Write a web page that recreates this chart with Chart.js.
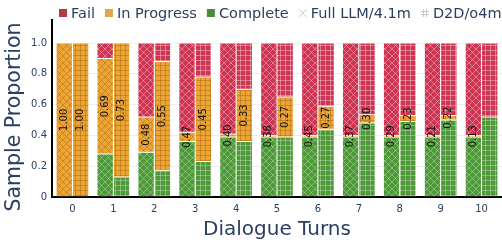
<!DOCTYPE html>
<html>
<head>
	<meta charset="utf-8">
	<script src="https://cdn.jsdelivr.net/npm/chart.js@4.4.1/dist/chart.umd.min.js"></script>
	<style type="text/css">
	html, body{
		margin: 0;
		padding: 0;
		background: #fff;
	}
	#holder{
		width: 502px;
		height: 242px;
	}
	</style>
</head>
<body>
	<div id="holder"><canvas id="chart-area"></canvas></div>

	<script>

	// values
	var turns = ['0', '1', '2', '3', '4', '5', '6', '7', '8', '9', '10'];

	var fullComplete = [0.00, 0.28, 0.29, 0.36, 0.39, 0.39, 0.39, 0.39, 0.39, 0.39, 0.39];
	var fullProgress = [1.00, 0.62, 0.23, 0.06, 0.02, 0.01, 0.01, 0.01, 0.01, 0.01, 0.01];
	var fullFail     = [0.00, 0.10, 0.48, 0.58, 0.59, 0.60, 0.60, 0.60, 0.60, 0.60, 0.60];

	var d2dComplete = [0.00, 0.13, 0.17, 0.23, 0.36, 0.39, 0.44, 0.48, 0.49, 0.50, 0.52];
	var d2dProgress = [1.00, 0.87, 0.71, 0.55, 0.34, 0.26, 0.15, 0.055, 0.04, 0.03, 0.00];
	var d2dFail     = [0.00, 0.00, 0.12, 0.22, 0.30, 0.35, 0.41, 0.465, 0.47, 0.47, 0.48];

	var fullLabels = ['1.00', '0.69', '0.48', '0.47', '0.40', '0.38', '0.45', '0.37', '0.29', '0.21', '0.13'];
	var d2dLabels  = ['1.00', '0.73', '0.55', '0.45', '0.33', '0.27', '0.27', '0.30', '0.23', '0.22', ''];

	var colors = {
		fail: '#cf3452',
		progress: '#eaa535',
		complete: '#4f9a38'
	};
	var legendColors = {
		fail: '#b63a45',
		progress: '#e2a84c',
		complete: '#4f8a3b'
	};
	var lineColors = {
		fail: 'rgba(255,255,255,0.35)',
		progress: 'rgba(170,100,10,0.45)',
		complete: 'rgba(255,255,255,0.3)'
	};

	function makePattern(kind, base, line) {
		var s = kind == 'x' ? 7 : 5;
		var c = document.createElement('canvas');
		c.width = s;
		c.height = s;
		var g = c.getContext('2d');
		g.fillStyle = base;
		g.fillRect(0, 0, s, s);
		g.strokeStyle = line;
		g.lineWidth = 1;
		g.beginPath();
		if (kind == 'x') {
			g.moveTo(0, 0); g.lineTo(s, s);
			g.moveTo(s, 0); g.lineTo(0, s);
		} else {
			g.moveTo(0.5, 0); g.lineTo(0.5, s);
			g.moveTo(0, 0.5); g.lineTo(s, 0.5);
		}
		g.stroke();
		return g.createPattern(c, 'repeat');
	}

	function dataset(label, data, key, kind, stack) {
		return {
			label: label,
			data: data,
			stack: stack,
			backgroundColor: makePattern(kind, colors[key], lineColors[key]),
			borderColor: 'rgba(255,255,255,0.5)',
			borderWidth: 0.5,
			borderSkipped: false
		};
	}

	var fontFamily = '"DejaVu Sans", Verdana, sans-serif';
	var textColor = '#2a3f5f';

	var legendPlugin = {
		id: 'topLegend',
		afterDraw: function(chart) {
			var ctx = chart.ctx;
			var items = [
				['box', legendColors.fail, 'Fail'],
				['box', legendColors.progress, 'In Progress'],
				['box', legendColors.complete, 'Complete'],
				['x', '#c8c8c8', 'Full LLM/4.1m'],
				['grid', '#c8c8c8', 'D2D/o4m']
			];
			var x = 59, y = 13;
			ctx.save();
			ctx.font = '14.5px ' + fontFamily;
			ctx.textBaseline = 'middle';
			items.forEach(function(it) {
				ctx.fillStyle = it[1];
				ctx.strokeStyle = it[1];
				ctx.lineWidth = 1;
				if (it[0] == 'box') {
					ctx.fillRect(x, y - 4, 8, 8);
				} else if (it[0] == 'x') {
					ctx.beginPath();
					ctx.moveTo(x, y - 4); ctx.lineTo(x + 8, y + 4);
					ctx.moveTo(x + 8, y - 4); ctx.lineTo(x, y + 4);
					ctx.stroke();
				} else {
					ctx.beginPath();
					ctx.moveTo(x + 2.5, y - 4); ctx.lineTo(x + 2.5, y + 4);
					ctx.moveTo(x + 5.5, y - 4); ctx.lineTo(x + 5.5, y + 4);
					ctx.moveTo(x, y - 1.5); ctx.lineTo(x + 8, y - 1.5);
					ctx.moveTo(x, y + 1.5); ctx.lineTo(x + 8, y + 1.5);
					ctx.stroke();
				}
				ctx.fillStyle = textColor;
				ctx.fillText(it[2], x + 12, y + 1);
				x += 12 + ctx.measureText(it[2]).width + 10;
			});
			ctx.restore();
		}
	};

	// y title drawn by hand so it can sit a bit lower than the plot centre
	var yTitlePlugin = {
		id: 'yTitle',
		afterDraw: function(chart) {
			var ctx = chart.ctx;
			ctx.save();
			ctx.font = '20.5px ' + fontFamily;
			ctx.fillStyle = textColor;
			ctx.textAlign = 'center';
			ctx.textBaseline = 'middle';
			ctx.translate(15, 117);
			ctx.rotate(-Math.PI / 2);
			ctx.fillText('Sample Proportion', 0, 0);
			ctx.restore();
		}
	};

	var barLabelPlugin = {
		id: 'barLabels',
		afterDatasetsDraw: function(chart) {
			var ctx = chart.ctx;
			var sets = [[1, fullLabels], [4, d2dLabels]];
			ctx.save();
			ctx.font = '10px ' + fontFamily;
			ctx.fillStyle = '#111';
			ctx.textAlign = 'center';
			ctx.textBaseline = 'middle';
			sets.forEach(function(s) {
				var meta = chart.getDatasetMeta(s[0]);
				meta.data.forEach(function(el, i) {
					if (!s[1][i]) return;
					var cy = (el.y + el.base) / 2;
					ctx.save();
					ctx.translate(el.x, cy);
					ctx.rotate(-Math.PI / 2);
					ctx.fillText(s[1][i], 0, 0);
					ctx.restore();
				});
			});
			ctx.restore();
		}
	};

	var config = {
		type: 'bar',
		data: {
			labels: turns,
			datasets: [
				dataset('Complete', fullComplete, 'complete', 'x', 'full'),
				dataset('In Progress', fullProgress, 'progress', 'x', 'full'),
				dataset('Fail', fullFail, 'fail', 'x', 'full'),
				dataset('Complete', d2dComplete, 'complete', 'grid', 'd2d'),
				dataset('In Progress', d2dProgress, 'progress', 'grid', 'd2d'),
				dataset('Fail', d2dFail, 'fail', 'grid', 'd2d')
			]
		},
		options: {
			responsive: true,
			maintainAspectRatio: false,
			animation: false,
			layout: {
				padding: {top: 20, right: 0, left: 0, bottom: 0}
			},
			datasets: {
				bar: {
					categoryPercentage: 0.8,
					barPercentage: 1.0
				}
			},
			plugins: {
				legend: {display: false},
				tooltip: {enabled: false}
			},
			scales: {
				x: {
					stacked: true,
					grid: {display: false, drawTicks: false},
					border: {color: '#000', width: 2},
					ticks: {
						color: textColor,
						font: {family: fontFamily, size: 10},
						padding: 6
					},
					title: {
						display: true,
						text: 'Dialogue Turns',
						color: textColor,
						font: {family: fontFamily, size: 20},
						padding: {top: 0, bottom: 0}
					},
					afterFit: function(scale) { scale.height = 45; }
				},
				y: {
					stacked: true,
					min: 0,
					max: 1.15,
					afterBuildTicks: function(scale) {
						scale.ticks = [0, 0.2, 0.4, 0.6, 0.8, 1].map(function(v) { return {value: v}; });
					},
					grid: {color: '#eeeeee', drawTicks: false},
					border: {color: '#000', width: 2},
					ticks: {
						color: textColor,
						font: {family: fontFamily, size: 10},
						padding: 5
					},
					title: {display: false},
					afterFit: function(scale) { scale.width = 52; }
				}
			}
		},
		plugins: [legendPlugin, yTitlePlugin, barLabelPlugin]
	};

	window.onload = function() {
		var ctx = document.getElementById('chart-area').getContext('2d');
		new Chart(ctx, config);
	};

	</script>
</body>
</html>
